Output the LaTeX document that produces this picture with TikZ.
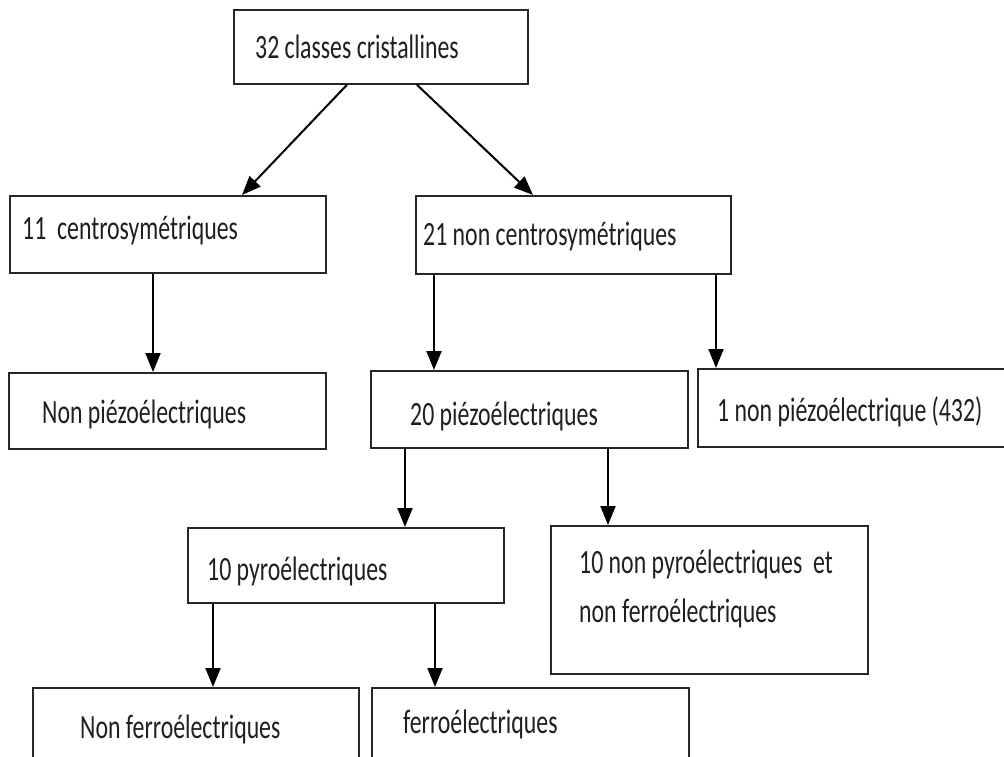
\documentclass[tikz,border=0pt]{standalone}
\usepackage{fontspec}
\setmainfont{Carlito}[FakeStretch=0.7]
\usetikzlibrary{arrows.meta}
\begin{document}
\begin{tikzpicture}[x=1pt,y=-1pt,
  box/.style={draw=black!85,line width=1.8pt,rectangle,inner sep=0pt,anchor=north west},
  lbl/.style={inner sep=0pt,anchor=base west,text=black!88,font=\fontsize{34}{40}\selectfont},
  arr/.style={draw=black,line width=2pt,-{Triangle[length=19pt,width=15pt]}}]
\useasboundingbox (0,0) rectangle (1004,756);
\clip (0,0) rectangle (1004,756);
\fill[white] (0,0) rectangle (1004,756);
% boxes
\node[box,minimum width=294pt,minimum height=74pt] (top) at (233,9) {};
\node[box,minimum width=316pt,minimum height=77pt] (c11) at (9,195) {};
\node[box,minimum width=315pt,minimum height=78pt] (c21) at (415,195) {};
\node[box,minimum width=317pt,minimum height=76pt] (np) at (8,372) {};
\node[box,minimum width=317pt,minimum height=77pt] (p20) at (370,370) {};
\node[box,minimum width=318pt,minimum height=78pt] (np1) at (697,368) {};
\node[box,minimum width=316pt,minimum height=75pt] (pyro) at (187,527) {};
\node[box,minimum width=317pt,minimum height=148pt] (npyro) at (550,525) {};
\node[box,minimum width=326pt,minimum height=95pt] (nferro) at (32,687) {};
\node[box,minimum width=317pt,minimum height=95pt] (ferro) at (371,687) {};
% texts
\node[lbl] (ttop) at (255,58) {32 classes cristallines};
\node[lbl] (tc11) at (22,239) {11\ \ centrosymétriques};
\node[lbl] (tc21) at (423,245) {21 non centrosymétriques};
\node[lbl] (tnp) at (42,423) {Non piézoélectriques};
\node[lbl] (tp20) at (410,425) {20 piézoélectriques};
\node[lbl] (tnp1) at (717,421) {1 non piézoélectrique (432)};
\node[lbl] (tpyro) at (207,580) {10 pyroélectriques};
\node[lbl] (tnpyroa) at (579,573) {10 non pyroélectriques\ \ et};
\node[lbl] (tnpyrob) at (579,622) {non ferroélectriques};
\node[lbl] (tnferro) at (80,738) {Non ferroélectriques};
\node[lbl] (tferro) at (403,733) {ferroélectriques};
% connectors
\draw[arr] ([xshift=114pt]top.south west) -- ([xshift=233pt]c11.north west);
\draw[arr] ([xshift=184pt]top.south west) -- ([xshift=118pt]c21.north west);
\draw[arr] ([xshift=144pt]c11.south west) -- ([xshift=145pt]np.north west);
\draw[arr] ([xshift=19pt]c21.south west) -- ([xshift=64pt]p20.north west);
\draw[arr] ([xshift=301pt]c21.south west) -- ([xshift=19pt]np1.north west);
\draw[arr] ([xshift=35pt]p20.south west) -- ([xshift=218pt]pyro.north west);
\draw[arr] ([xshift=238pt]p20.south west) -- ([xshift=58pt]npyro.north west);
\draw[arr] ([xshift=26pt]pyro.south west) -- ([xshift=181pt]nferro.north west);
\draw[arr] ([xshift=248pt]pyro.south west) -- ([xshift=64pt]ferro.north west);
\end{tikzpicture}
\end{document}
